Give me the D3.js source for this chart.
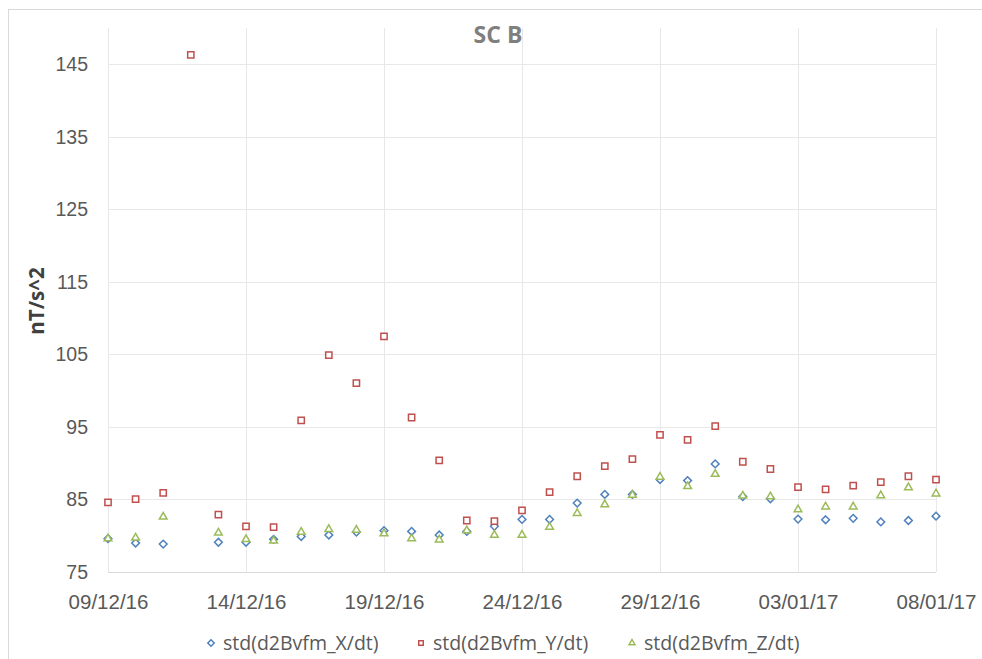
<!DOCTYPE html>
<html>
<head>
<meta charset="utf-8">
<script src="https://cdn.jsdelivr.net/npm/d3@7"></script>
<style>
  html, body { margin: 0; padding: 0; background: #fff; }
  svg { display: block; font-family: "Open Sans", "Noto Sans", sans-serif; }
</style>
</head>
<body>
<svg id="chart" width="982" height="659"></svg>
<script>
// one sample per day, 09/12/16 .. 08/01/17
const dates = [
  '2016-12-09', '2016-12-10', '2016-12-11', '2016-12-12', '2016-12-13', '2016-12-14',
  '2016-12-15', '2016-12-16', '2016-12-17', '2016-12-18', '2016-12-19', '2016-12-20',
  '2016-12-21', '2016-12-22', '2016-12-23', '2016-12-24', '2016-12-25', '2016-12-26',
  '2016-12-27', '2016-12-28', '2016-12-29', '2016-12-30', '2016-12-31', '2017-01-01',
  '2017-01-02', '2017-01-03', '2017-01-04', '2017-01-05', '2017-01-06', '2017-01-07',
  '2017-01-08'
];

const stdX = [
  79.6, 79.0, 78.85, null, 79.1, 79.1, 79.5, 79.9, 80.1, 80.5, 80.7, 80.6,
  80.1, 80.6, 81.3, 82.25, 82.25, 84.5, 85.7, 85.7, 87.75, 87.6, 89.9, 85.4,
  85.1, 82.3, 82.2, 82.4, 81.9, 82.1, 82.7
];

const stdY = [
  84.6, 85.05, 85.9, 146.3, 82.9, 81.3, 81.2, 95.9, 104.9, 101.05, 107.5, 96.3,
  90.4, 82.1, 82.0, 83.5, 86.0, 88.2, 89.6, 90.55, 93.9, 93.2, 95.1, 90.2,
  89.2, 86.7, 86.4, 86.9, 87.4, 88.2, 87.75
];

const stdZ = [
  79.6, 79.7, 82.6, null, 80.4, 79.5, 79.3, 80.5, 80.9, 80.8, 80.3, 79.6,
  79.45, 80.7, 80.1, 80.1, 81.2, 83.1, 84.3, 85.6, 88.1, 86.8, 88.5, 85.5,
  85.4, 83.6, 84.0, 84.0, 85.55, 86.65, 85.8
];

const yTicks = [75, 85, 95, 105, 115, 125, 135, 145];
const xTickDates = ['2016-12-09', '2016-12-14', '2016-12-19', '2016-12-24', '2016-12-29', '2017-01-03', '2017-01-08'];

const seriesNames = ['std(d2Bvfm_X/dt)', 'std(d2Bvfm_Y/dt)', 'std(d2Bvfm_Z/dt)'];
const seriesValues = [stdX, stdY, stdZ];
const seriesColors = ['#4F81BD', '#C0504D', '#9BBB59'];
const seriesShapes = [d3.symbolDiamond2, d3.symbolSquare2, d3.symbolTriangle2];
const markerSizes = [38, 50, 42];

const parse = d3.timeParse('%Y-%m-%d');
const fmt = d3.timeFormat('%d/%m/%y');

const svg = d3.select('#chart');
const margin = { left: 108, right: 46, top: 28, bottom: 87 };
const W = 982, H = 659;

// chart frame
svg.append('rect')
  .attr('x', 8.5).attr('y', 9.5)
  .attr('width', W).attr('height', H)
  .attr('fill', '#fff').attr('stroke', '#d9d9d9');

const x = d3.scaleTime()
  .domain([parse(dates[0]), parse(dates[dates.length - 1])])
  .range([margin.left, W - margin.right]);

const y = d3.scaleLinear()
  .domain([75, 150])
  .range([H - margin.bottom, margin.top]);

// gridlines
svg.append('g')
  .selectAll('line')
  .data(yTicks)
  .join('line')
  .attr('x1', margin.left).attr('x2', W - margin.right)
  .attr('y1', d => Math.round(y(d)) + 0.5).attr('y2', d => Math.round(y(d)) + 0.5)
  .attr('stroke', d => d === 75 ? '#d9d9d9' : '#e8e8e8');

svg.append('g')
  .selectAll('line')
  .data(xTickDates)
  .join('line')
  .attr('x1', d => Math.round(x(parse(d))) + 0.5).attr('x2', d => Math.round(x(parse(d))) + 0.5)
  .attr('y1', margin.top).attr('y2', y(75))
  .attr('stroke', '#e8e8e8');

// y axis labels
const yAxis = d3.axisLeft(y).tickValues(yTicks).tickSize(0).tickPadding(20);
svg.append('g')
  .attr('transform', `translate(${margin.left},0)`)
  .call(yAxis)
  .call(g => g.select('.domain').remove())
  .call(g => g.selectAll('text')
    .attr('fill', '#595959')
    .style('font-size', '19.5px'));

// x axis labels
const xAxis = d3.axisBottom(x).tickValues(xTickDates.map(parse)).tickFormat(fmt).tickSize(0).tickPadding(22);
svg.append('g')
  .attr('transform', `translate(0,${y(75)})`)
  .call(xAxis)
  .call(g => g.select('.domain').remove())
  .call(g => g.selectAll('text')
    .attr('fill', '#595959')
    .style('font-size', '20.5px'));

// title
svg.append('text')
  .attr('x', 498).attr('y', 43)
  .attr('text-anchor', 'middle')
  .attr('fill', '#7f7f7f')
  .style('font-size', '23px')
  .style('font-weight', 'bold')
  .text('SC B');

// y axis title
svg.append('text')
  .attr('transform', 'translate(44,301) rotate(-90)')
  .attr('text-anchor', 'middle')
  .attr('fill', '#404040')
  .style('font-size', '20.5px')
  .style('font-weight', 'bold')
  .text('nT/s^2');

// markers
seriesValues.forEach((vals, i) => {
  const sym = d3.symbol().type(seriesShapes[i]).size(markerSizes[i]);
  svg.append('g')
    .selectAll('path')
    .data(dates.map((d, j) => ({ date: parse(d), v: vals[j] })).filter(p => p.v != null))
    .join('path')
    .attr('d', sym)
    .attr('transform', p => `translate(${x(p.date)},${y(p.v)})`)
    .attr('fill', '#fff')
    .attr('stroke', seriesColors[i])
    .attr('stroke-width', 1.5);
});

// legend
const legendX = [211, 421, 632];
const legend = svg.append('g');
seriesNames.forEach((name, i) => {
  const sym = d3.symbol().type(seriesShapes[i]).size(26);
  legend.append('path')
    .attr('d', sym)
    .attr('transform', `translate(${legendX[i]},643)`)
    .attr('fill', '#fff')
    .attr('stroke', seriesColors[i])
    .attr('stroke-width', 1.5);
  legend.append('text')
    .attr('x', legendX[i] + 12).attr('y', 643)
    .attr('dy', '0.35em')
    .attr('fill', '#595959')
    .style('font-size', '19.5px')
    .text(name);
});
</script>
</body>
</html>
